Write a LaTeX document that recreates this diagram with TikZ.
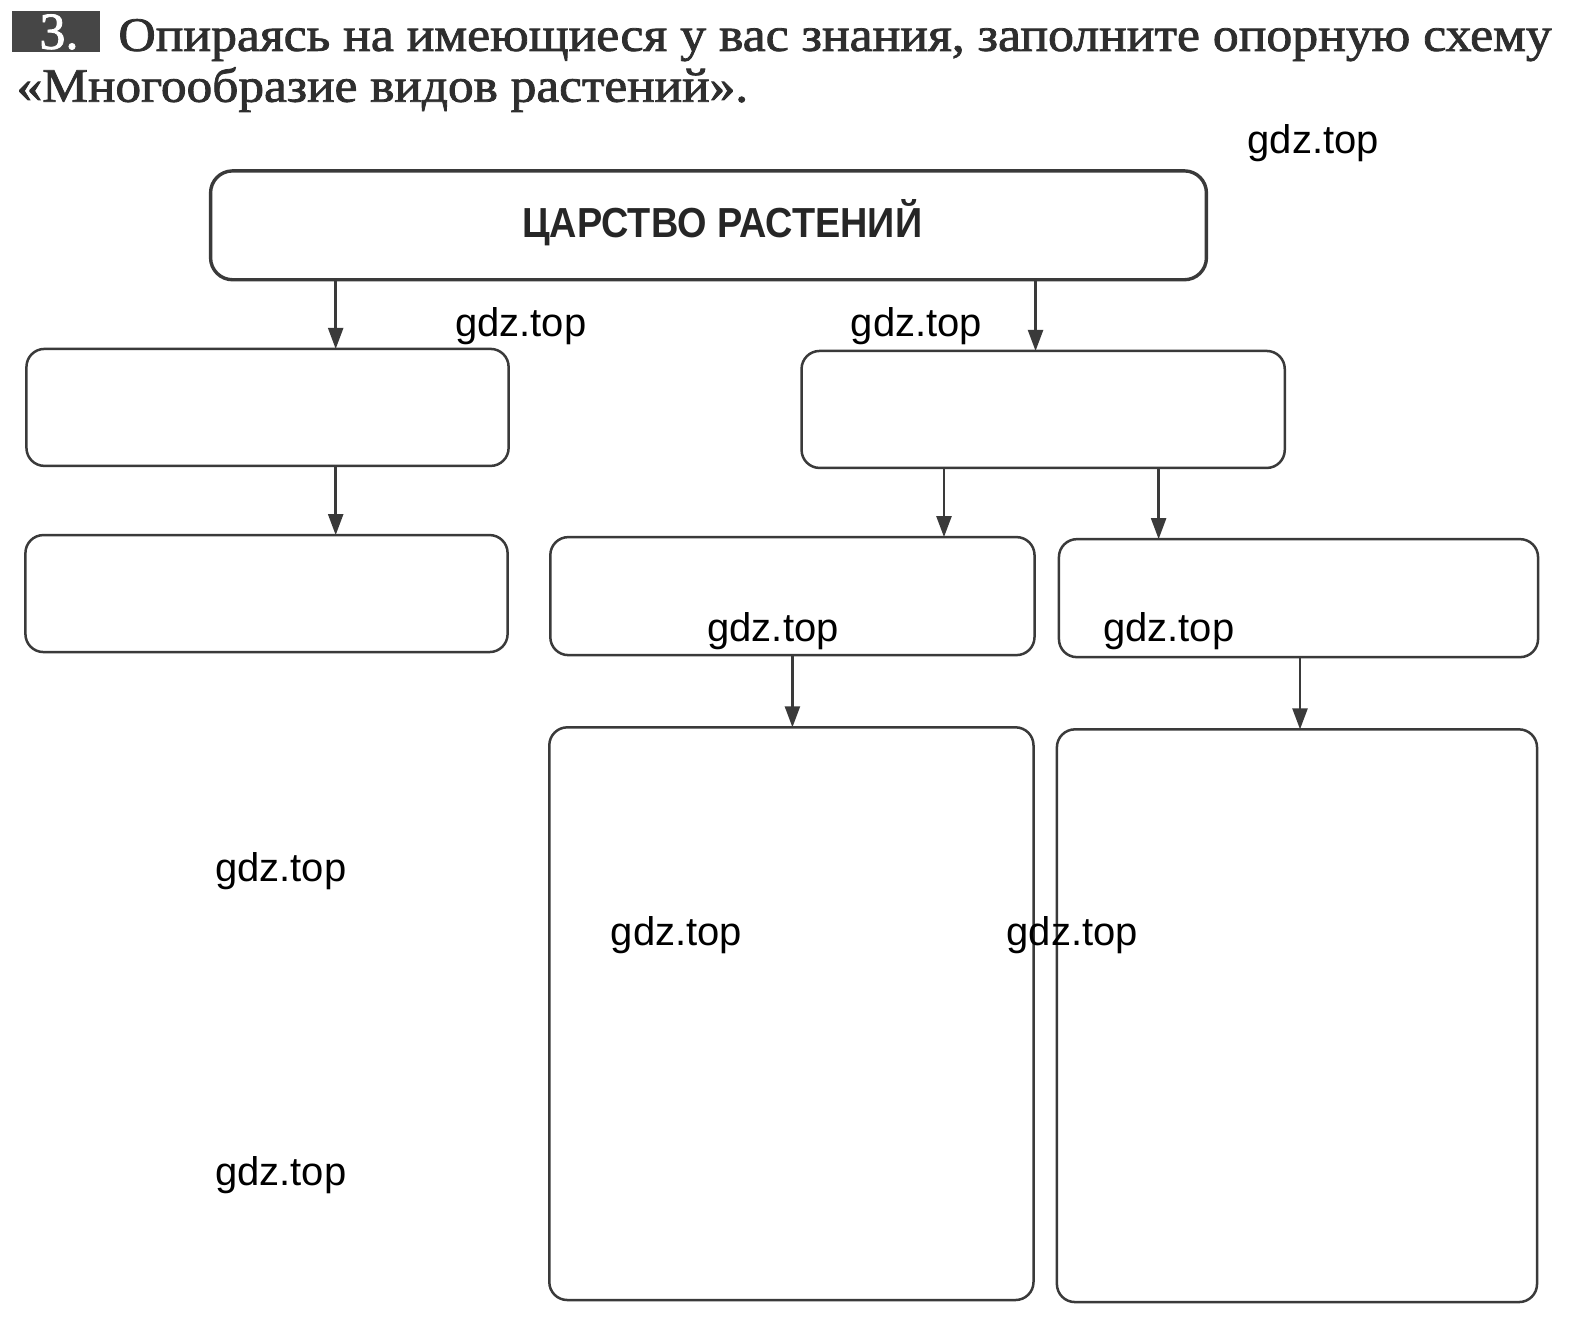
\documentclass[tikz,border=0pt]{standalone}
\usepackage{fontspec}
\setmainfont{Liberation Serif}
\newfontfamily\headfont[FakeBold=1.6]{Liberation Serif}
\newfontfamily\wmfont{Liberation Sans}
\usetikzlibrary{arrows.meta}
\definecolor{boxgray}{HTML}{3A3A3A}
\definecolor{txtgray}{HTML}{2E2E2E}
\def\pxu{0.5086pt}
\begin{document}
\begin{tikzpicture}[x=0.5086pt,y=-0.5086pt,
  box/.style={draw=boxgray, line width=1.25pt, rounded corners=9pt, inner sep=0pt, outer sep=0pt},
  arr/.style={draw=boxgray, line width=1.2pt, -{Triangle[length=10.5pt,width=7.5pt]}},
  wm/.style={font=\wmfont\fontsize{20}{20}\selectfont, inner sep=0pt, text=black}]
\useasboundingbox (0,0) rectangle (1568,1300);
% header
\fill[gray!55!black] (12,11) rectangle (98,51);
\node[inner sep=0pt, text=white, font=\headfont\fontsize{26}{26}\selectfont, anchor=base] (num) at (58,48) {3.};
\node[inner sep=0pt, anchor=base west, text=txtgray, font=\headfont\fontsize{24}{24}\selectfont] (h1) at (116,50)
  {\resizebox{716.6pt}{\height}{Опираясь на имеющиеся у вас знания, заполните опорную схему}};
\node[inner sep=0pt, anchor=base west, text=txtgray, font=\headfont\fontsize{24}{24}\selectfont] (h2) at (16,100)
  {\resizebox{365.7pt}{\height}{«Многообразие видов растений».}};
% boxes
\node[box, line width=1.7pt, rounded corners=11pt, minimum width=979*\pxu, minimum height=107*\pxu] (top) at (696.5,221.5) {};
\node[inner sep=0pt, anchor=base, text=black!85, font=\wmfont\bfseries\fontsize{21}{21}\selectfont] (toptext) at (710,233)
  {\resizebox{200pt}{\height}{ЦАРСТВО РАСТЕНИЙ}};
\node[box, minimum width=474*\pxu, minimum height=115*\pxu] (L1) at (263,400.5) {};
\node[box, minimum width=475*\pxu, minimum height=115*\pxu] (R1) at (1025.5,402.5) {};
\node[box, minimum width=474*\pxu, minimum height=115*\pxu] (L2) at (262,583.5) {};
\node[box, minimum width=476*\pxu, minimum height=116*\pxu] (M2) at (779,586) {};
\node[box, minimum width=471*\pxu, minimum height=116*\pxu] (R2) at (1276.5,588) {};
\node[box, minimum width=476*\pxu, minimum height=563*\pxu] (M3) at (778,996.5) {};
\node[box, minimum width=472*\pxu, minimum height=563*\pxu] (R3) at (1275,998.5) {};
% arrow columns
\coordinate (xa) at (330,0);
\coordinate (xb) at (1018,0);
\coordinate (xc) at (928,0);
\coordinate (xd) at (1139,0);
\coordinate (xe) at (779,0);
\coordinate (xf) at (1278,0);
\draw[arr] (top.south -| xa) -- (L1.north -| xa);
\draw[arr] (top.south -| xb) -- (R1.north -| xb);
\draw[arr] (L1.south -| xa) -- (L2.north -| xa);
\draw[arr] (R1.south -| xc) -- (M2.north -| xc);
\draw[arr] (R1.south -| xd) -- (R2.north -| xd);
\draw[arr] (M2.south -| xe) -- (M3.north -| xe);
\draw[arr] (R2.south -| xf) -- (R3.north -| xf);
% watermarks
\node[wm] (w1) at (1291,141) {gdz.top};
\node[wm] (w2) at (512,321) {gdz.top};
\node[wm] (w3) at (901,321) {gdz.top};
\node[wm] (w4) at (760,620) {gdz.top};
\node[wm] (w5) at (1149,620) {gdz.top};
\node[wm] (w6) at (276,856) {gdz.top};
\node[wm] (w7) at (665,919) {gdz.top};
\node[wm] (w8) at (1054,919) {gdz.top};
\node[wm] (w9) at (276,1155) {gdz.top};
\end{tikzpicture}
\end{document}
